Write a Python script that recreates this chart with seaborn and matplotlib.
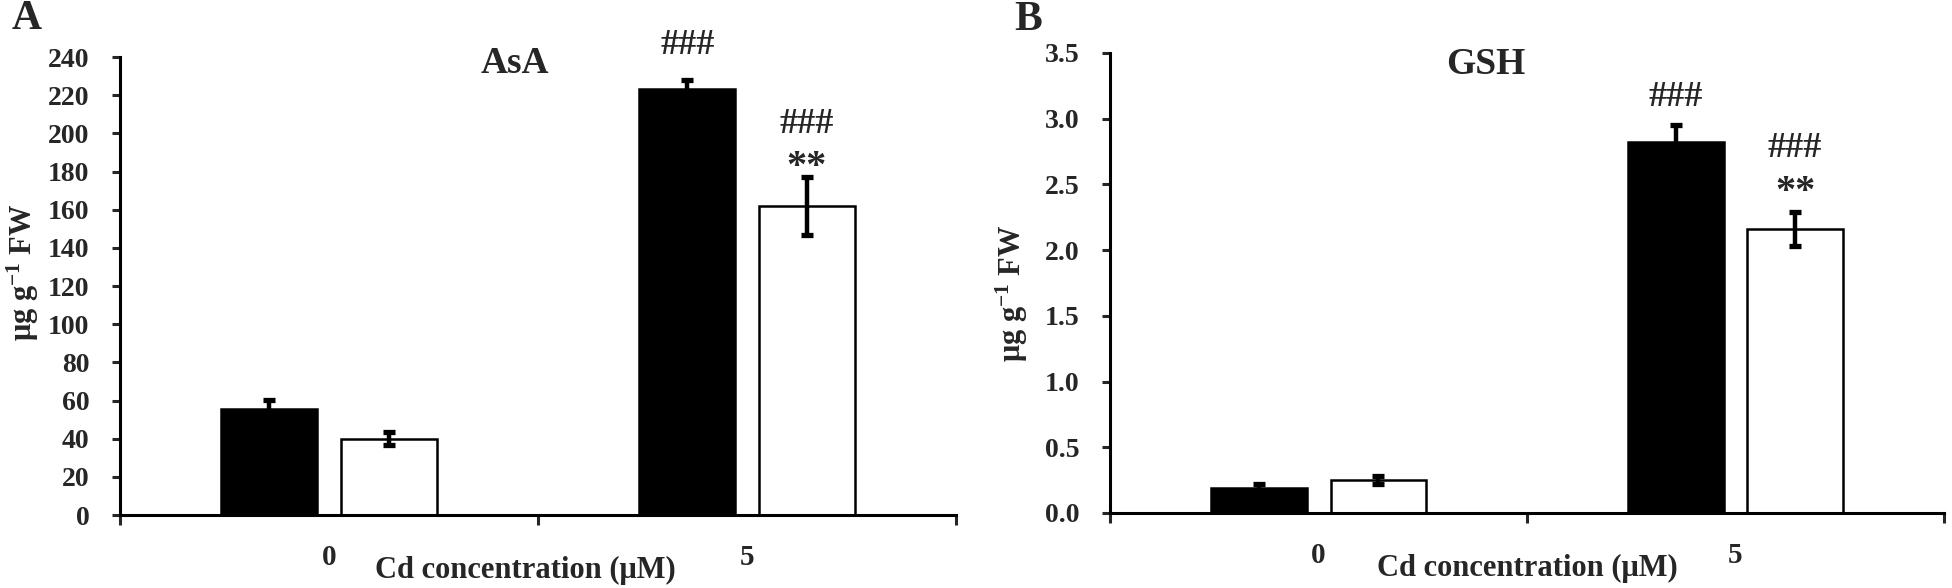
import numpy as np
import pandas as pd
import matplotlib
matplotlib.use('Agg')
from matplotlib import pyplot as plt
from matplotlib.ticker import FormatStrFormatter
import seaborn as sns

# data
conc = ['0', '0', '5', '5']
group = ['g1', 'g2', 'g1', 'g2']
asa_mean = [55.5, 40.0, 223.5, 162.0]
asa_err = [5.0, 3.5, 4.5, 15.0]
gsh_mean = [0.19, 0.25, 2.82, 2.16]
gsh_err = [0.03, 0.03, 0.13, 0.13]
asa_marks = {(2, '###'): 25, (3, '###'): 38, (3, '**'): 7}
gsh_marks = {(2, '###'): 20, (3, '###'): 46, (3, '**'): 14}

df = pd.DataFrame({'conc': conc, 'group': group, 'AsA': asa_mean, 'GSH': gsh_mean})

sns.set_style('white')
plt.rcParams['font.family'] = ['Liberation Serif', 'DejaVu Serif']
plt.rcParams['font.weight'] = 'bold'
plt.rcParams['mathtext.fontset'] = 'custom'
plt.rcParams['mathtext.rm'] = 'Liberation Serif:bold'
plt.rcParams['mathtext.default'] = 'rm'

fig = plt.figure(figsize=(19.52, 5.88), dpi=100)
axA = fig.add_axes([0.0615, 0.124, 0.4283, 0.779])
axB = fig.add_axes([0.5687, 0.1276, 0.4272, 0.7824])


def panel(ax, col, err, ymax, ystep, fmt, title, tpos, marks, lab_x):
    sns.barplot(data=df, x='conc', y=col, hue='group', palette=['black', 'white'],
                edgecolor='black', linewidth=1.8, width=0.572, gap=0.2,
                errorbar=None, legend=False, ax=ax)
    xs, ys = [], []
    for cont in ax.containers:
        for p in cont:
            xs.append(p.get_x() + p.get_width() / 2)
            ys.append(p.get_height())
    # containers are per hue -> sort by x to match data order
    order = np.argsort(xs)
    xs = np.array(xs)[order]
    ys = np.array(ys)[order]
    ax.errorbar(xs, ys, yerr=err, fmt='none', ecolor='black', elinewidth=3.2,
                capsize=4.5, capthick=3.8, zorder=5)
    for (i, s), off in marks.items():
        ax.annotate(s, xy=(xs[i], ys[i] + err[i]), xytext=(0, off),
                    textcoords='offset points', ha='center', va='center',
                    fontsize=26 if s == '###' else 29, fontweight='bold',
                    annotation_clip=False)
    ax.set_xlim(-0.5, 1.5)
    ax.set_ylim(0, ymax)
    ax.set_yticks(np.arange(0, ymax + ystep / 2, ystep))
    ax.yaxis.set_major_formatter(FormatStrFormatter(fmt))
    ax.set_xticks([-0.5, 0.5, 1.5])
    ax.set_xticklabels([])
    ax.set_xticks([0, 1], minor=True)
    ax.set_xticklabels(['0', '5'], minor=True)
    ax.tick_params(axis='x', which='major', bottom=True, direction='out', length=7, width=2.2)
    ax.tick_params(axis='x', which='minor', bottom=True, length=0, pad=21, labelsize=21)
    ax.tick_params(axis='y', left=True, direction='out', length=6, width=2.2, pad=16, labelsize=20)
    sns.despine(ax=ax)
    for s in ['left', 'bottom']:
        ax.spines[s].set_linewidth(2.2)
        ax.spines[s].set_color('black')
    ax.set_xlabel('Cd concentration (μM)', fontsize=22, fontweight='bold')
    ax.xaxis.set_label_coords(lab_x, -0.09)
    ax.xaxis.label.set_va('top')
    ax.set_ylabel('μg g$^{-1}$ FW', fontsize=22, fontweight='bold')
    ax.text(tpos[0], tpos[1], title, transform=ax.transAxes, ha='center',
            va='center', fontsize=27, fontweight='bold')


panel(axA, 'AsA', asa_err, 240, 20, '%d', 'AsA', (0.472, 0.985), asa_marks, 0.485)
panel(axB, 'GSH', gsh_err, 3.5, 0.5, '%.1f', 'GSH', (0.45, 0.974), gsh_marks, 0.5)
axA.yaxis.set_label_coords(-0.094, 0.53)
axB.yaxis.set_label_coords(-0.096, 0.478)

fig.text(0.0138, 0.968, 'A', fontsize=30, fontweight='bold', ha='center', va='center')
fig.text(0.5266, 0.966, 'B', fontsize=30, fontweight='bold', ha='center', va='center')

fig.savefig('out.png', dpi=100, facecolor='white')
